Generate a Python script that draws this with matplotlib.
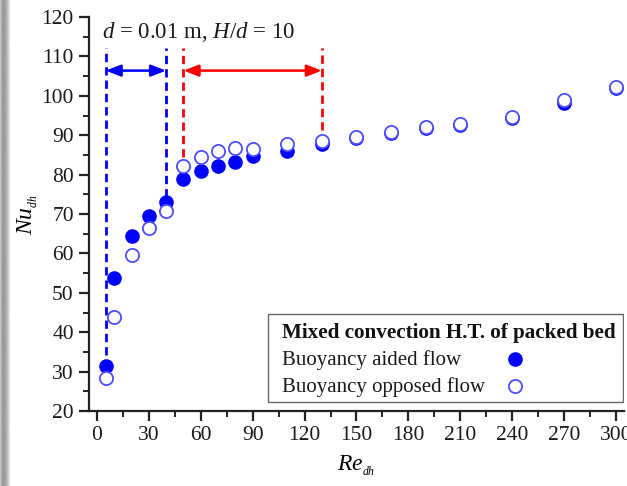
import numpy as np
import matplotlib
matplotlib.use("Agg")
import matplotlib.pyplot as plt
from matplotlib.ticker import MultipleLocator
from matplotlib.patches import Rectangle

plt.rcParams['font.family'] = ['Liberation Serif', 'DejaVu Serif']
plt.rcParams['mathtext.fontset'] = 'custom'
plt.rcParams['mathtext.it'] = 'Liberation Serif:italic'
plt.rcParams['mathtext.rm'] = 'Liberation Serif'

# Data
re_aided = [5, 10, 20, 30, 40, 50, 60, 70, 80, 90, 110, 130, 150, 170, 190, 210, 240, 270, 300]
nu_aided = [31.4, 53.7, 64.4, 69.5, 73.1, 78.9, 80.9, 82.3, 83.3, 84.8, 86.1, 87.9,
            89.4, 90.6, 91.8, 92.6, 94.3, 98.3, 102.0]
re_opposed = [5, 10, 20, 30, 40, 50, 60, 70, 80, 90, 110, 130, 150, 170, 190, 210, 240, 270, 300]
nu_opposed = [28.5, 43.8, 59.6, 66.4, 70.8, 82.2, 84.4, 86.1, 86.7, 86.5, 87.8, 88.6,
              89.6, 90.9, 92.0, 92.8, 94.6, 98.9, 102.2]

# Range markers (dashed lines and arrows)
blue_range = [5, 40]
blue_bottoms = [34.2, 74.3]
red_range = [50, 130]
red_bottoms = [84.5, 91.3]
line_top = 112.1
arrow_y = 106.4

legend_title = 'Mixed convection H.T. of packed bed'
legend_labels = ['Buoyancy aided flow', 'Buoyancy opposed flow']

fig = plt.figure(figsize=(6.27, 4.86), dpi=100)

# gray shadow on the left edge
bg = fig.add_axes([0, 0, 0.016, 1])
shade = np.array([0.78, 0.66, 0.6, 0.6, 0.62, 0.66, 0.72, 0.8, 0.9, 0.97]).reshape(1, -1)
bg.imshow(shade, aspect='auto', cmap='gray', vmin=0, vmax=1, extent=[0, 1, 0, 1],
          interpolation='bilinear')
bg.axis('off')

ax = fig.add_axes([0.142, 0.154, 0.853, 0.811])

ax.plot(re_aided, nu_aided, 'o', color='#0000ff', markersize=9.5, zorder=3)
ax.plot(re_opposed, nu_opposed, 'o', markerfacecolor='white', markeredgecolor='#4d4dff',
        markeredgewidth=1.3, markersize=9.5, zorder=4)

for x, b in zip(blue_range, blue_bottoms):
    ax.plot([x, x], [b, line_top], color='#0000ff', lw=2, ls=(0, (3, 1.8)), zorder=2)
for x, b in zip(red_range, red_bottoms):
    ax.plot([x, x], [b, line_top], color='#ff0000', lw=2, ls=(0, (3, 1.8)), zorder=2)

ax.annotate('', xy=(blue_range[0], arrow_y), xytext=(blue_range[1], arrow_y),
            arrowprops=dict(arrowstyle='<|-|>,head_length=0.9,head_width=0.35',
                            color='#0000ff', lw=1.8, shrinkA=0, shrinkB=0))
ax.annotate('', xy=(red_range[0], arrow_y), xytext=(red_range[1], arrow_y),
            arrowprops=dict(arrowstyle='<|-|>,head_length=0.9,head_width=0.35',
                            color='#ff0000', lw=1.8, shrinkA=0, shrinkB=0))

ax.text(3, 116.2, r'$d$ = 0.01 m, $H$/$d$ = 10', fontsize=16.5, va='center', ha='left',
        color='#1a1a1a')

# legend drawn by hand so the texts line up left and the markers line up right
ax.add_patch(Rectangle((99, 22.3), 205, 22.3, facecolor='white', edgecolor='#666666',
                       lw=1.0, zorder=5))
ax.text(107, 39.8, legend_title, fontsize=15.2, fontweight='bold', va='center',
        ha='left', zorder=6, color='#111111')
ax.text(107, 33.0, legend_labels[0], fontsize=15, va='center', ha='left', zorder=6,
        color='#1a1a1a')
ax.text(107, 26.2, legend_labels[1], fontsize=15, va='center', ha='left', zorder=6,
        color='#1a1a1a')
ax.plot([241.5], [33.2], 'o', color='#0000ff', markersize=9.5, zorder=7)
ax.plot([241.5], [26.4], 'o', markerfacecolor='white', markeredgecolor='#4d4dff',
        markeredgewidth=1.3, markersize=9.5, zorder=7)

ax.set_xlim(-4.6, 304.6)
ax.set_ylim(20, 120)
ax.xaxis.set_major_locator(MultipleLocator(30))
ax.xaxis.set_minor_locator(MultipleLocator(15))
ax.yaxis.set_major_locator(MultipleLocator(10))
ax.yaxis.set_minor_locator(MultipleLocator(5))

for s in ['top', 'right']:
    ax.spines[s].set_visible(False)
for s in ['left', 'bottom']:
    ax.spines[s].set_linewidth(1.6)
    ax.spines[s].set_color('#222222')

ax.tick_params(which='major', direction='out', length=7, width=1.6, labelsize=15.5,
               colors='#222222', labelcolor='#1a1a1a', pad=4)
ax.tick_params(which='minor', direction='out', length=4, width=1.4, colors='#222222')

ax.set_xlabel(r'$Re_{{}_{dh}}$', fontsize=17, labelpad=6)
ax.set_ylabel(r'$Nu_{{}_{dh}}$', fontsize=17, labelpad=1)

fig.savefig('out.png', dpi=100)
